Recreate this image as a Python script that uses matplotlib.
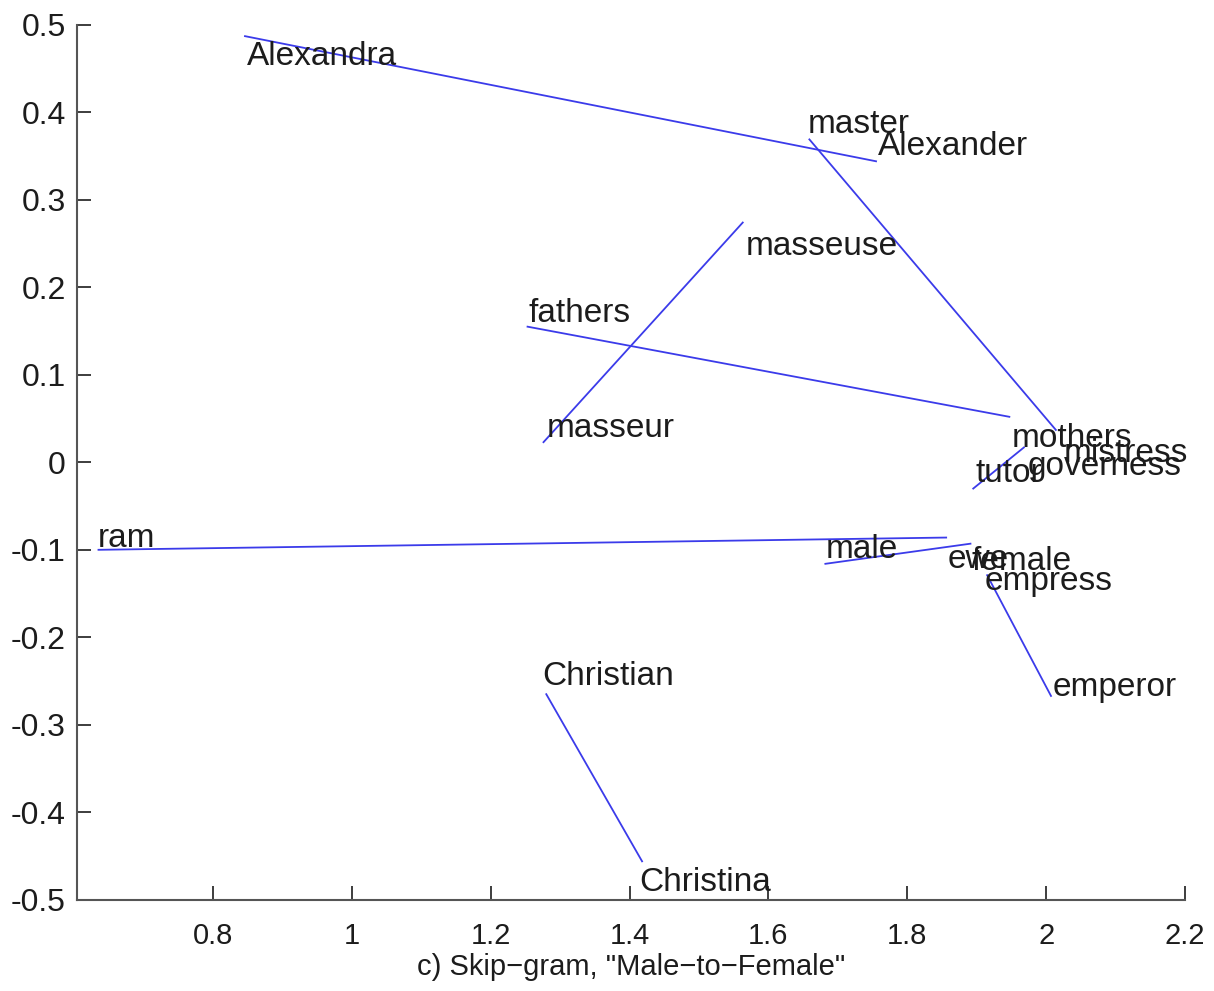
import matplotlib.pyplot as plt

plt.rcParams['font.family'] = ['Liberation Sans', 'DejaVu Sans']

# word labels: text, x (left edge), y (baseline)
words = ['Alexandra', 'master', 'Alexander', 'masseuse', 'fathers', 'masseur',
         'mothers', 'mistress', 'governess', 'tutor', 'ram', 'male', 'ewe',
         'female', 'empress', 'emperor', 'Christian', 'Christina']
word_x = [0.849, 1.657, 1.758, 1.567, 1.254, 1.280,
          1.951, 2.025, 1.974, 1.898, 0.634, 1.682, 1.858,
          1.892, 1.911, 2.009, 1.274, 1.414]
word_y = [0.454, 0.376, 0.351, 0.237, 0.160, 0.029,
          0.017, 0.000, -0.014, -0.023, -0.097, -0.109, -0.121,
          -0.123, -0.146, -0.267, -0.255, -0.490]

# connecting segments between word pairs
seg_x1 = [0.846, 1.659, 1.563, 1.253, 1.968, 0.635, 1.682, 1.915, 1.280]
seg_y1 = [0.487, 0.369, 0.274, 0.155, 0.017, -0.100, -0.116, -0.129, -0.265]
seg_x2 = [1.755, 2.014, 1.276, 1.947, 1.895, 1.856, 1.891, 2.007, 1.418]
seg_y2 = [0.344, 0.037, 0.023, 0.052, -0.030, -0.086, -0.093, -0.267, -0.456]

xticks = [0.8, 1, 1.2, 1.4, 1.6, 1.8, 2, 2.2]
yticks = [0.5, 0.4, 0.3, 0.2, 0.1, 0, -0.1, -0.2, -0.3, -0.4, -0.5]

fig = plt.figure(figsize=(12.14, 9.91), dpi=100)
ax = fig.add_axes([0.0634, 0.092, 0.9127, 0.883])

for i in range(len(seg_x1)):
    ax.plot([seg_x1[i], seg_x2[i]], [seg_y1[i], seg_y2[i]], color='#3b3bea', lw=1.3)

for w, x, y in zip(words, word_x, word_y):
    ax.text(x, y, w, fontsize=24, color='#1c1c1c', ha='left', va='baseline')

ax.set_xlim(0.604, 2.2)
ax.set_ylim(-0.5, 0.5)
ax.set_xticks(xticks)
ax.set_xticklabels(['0.8', '1', '1.2', '1.4', '1.6', '1.8', '2', '2.2'])
ax.set_yticks(yticks)
ax.set_yticklabels(['0.5', '0.4', '0.3', '0.2', '0.1', '0', '-0.1', '-0.2', '-0.3', '-0.4', '-0.5'])
ax.tick_params(direction='in', length=10, width=1.2, colors='#1c1c1c')
ax.tick_params(axis='y', labelsize=23, pad=8)
ax.tick_params(axis='x', labelsize=21, pad=16)

for s in ['top', 'right']:
    ax.spines[s].set_visible(False)
for s in ['left', 'bottom']:
    ax.spines[s].set_linewidth(1.5)
    ax.spines[s].set_color('#555555')

ax.set_xlabel('c) Skip\u2212gram, "Male\u2212to\u2212Female"', fontsize=21, color='#1c1c1c', labelpad=2)

fig.savefig('out.png', dpi=100)
